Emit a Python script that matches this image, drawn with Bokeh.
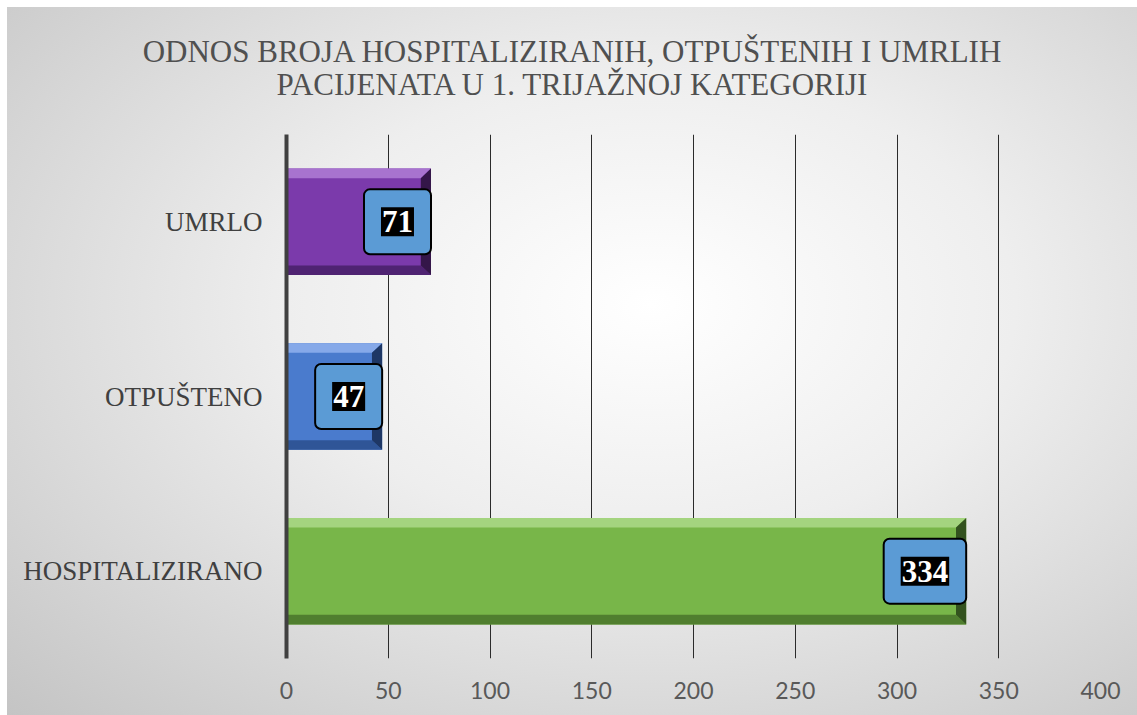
from bokeh.plotting import figure
from bokeh.layouts import column
from bokeh.models import ColumnDataSource, FactorRange, Range1d, FixedTicker, Div
from bokeh.embed import file_html
from bokeh.resources import INLINE
from bokeh.core.properties import value

# ---- data ----
categories = ["HOSPITALIZIRANO", "OTPUŠTENO", "UMRLO"]
counts = [334, 47, 71]
face_colors = ["#78b649", "#4a7bcd", "#7b3aab"]
top_colors = ["#a4d47f", "#86a9e9", "#a873cf"]
bottom_colors = ["#507e2f", "#2f5597", "#4f2372"]
side_colors = ["#33521e", "#1e3765", "#341649"]
x_ticks = [0, 50, 100, 150, 200, 250, 300, 350, 400]
title_lines = ["ODNOS BROJA HOSPITALIZIRANIH, OTPUŠTENIH I UMRLIH",
               "PACIJENATA U 1. TRIJAŽNOJ KATEGORIJI"]

BAR_H = 0.61
BEV_X = 5.0     # bevel width in x units
BEV_Y = 0.055   # bevel width in category units

W, H = 1137, 715
TH = 134                               # title strip height
FL, FR, FB = 286, 1100, 658            # frame edges (page px)

# ---- title strip ----
title_html = ("<div style=\"box-sizing:border-box;width:%dpx;margin:0;padding:35px 0 0 7px;"
              "text-align:center;font-family:'Liberation Serif',serif;font-size:31px;"
              "line-height:33px;color:#505050;white-space:nowrap;\">" % W
              + "<br>".join(title_lines) + "</div>")
t = Div(text=title_html, width=W, height=TH, margin=0)

# ---- chart ----
p = figure(width=W, height=H - TH, title=None,
           y_range=FactorRange(*categories), x_range=Range1d(0, 400),
           output_backend="svg", toolbar_location=None,
           min_border_left=FL, min_border_right=W - FR,
           min_border_top=0, min_border_bottom=H - FB, margin=0)
p.background_fill_alpha = 0
p.border_fill_alpha = 0
p.outline_line_color = None

# grid
p.xgrid.ticker = FixedTicker(ticks=x_ticks)
p.xgrid.grid_line_color = "#2b2b2b"
p.xgrid.grid_line_width = 1
p.ygrid.grid_line_color = None

# axes
p.xaxis.ticker = FixedTicker(ticks=x_ticks)
p.xaxis.axis_line_color = None
p.xaxis.major_tick_line_color = None
p.xaxis.minor_tick_line_color = None
p.xaxis.major_label_text_font = "Lato"
p.xaxis.major_label_text_font_size = "23px"
p.xaxis.major_label_text_color = "#595959"
p.xaxis.major_label_standoff = 17

p.yaxis.axis_line_color = "#404040"
p.yaxis.axis_line_width = 4
p.yaxis.major_tick_line_color = None
p.yaxis.minor_tick_line_color = None
p.yaxis.major_label_text_font = "Liberation Serif"
p.yaxis.major_label_text_font_size = "27px"
p.yaxis.major_label_text_color = "#404040"
p.yaxis.major_label_standoff = 18

# bars
src = ColumnDataSource(dict(cat=categories, v=counts, face=face_colors,
                            lbl=[str(c) for c in counts]))
p.hbar(y="cat", left=0, right="v", height=BAR_H, fill_color="face",
       line_color=None, source=src)

# bevel strips built from the same values
top_xs, top_ys, bot_xs, bot_ys, side_xs, side_ys = [], [], [], [], [], []
for c, v in zip(categories, counts):
    hi, lo = BAR_H / 2, -BAR_H / 2
    top_xs.append([0, v, v - BEV_X, 0])
    top_ys.append([(c, hi), (c, hi), (c, hi - BEV_Y), (c, hi - BEV_Y)])
    bot_xs.append([0, v, v - BEV_X, 0])
    bot_ys.append([(c, lo), (c, lo), (c, lo + BEV_Y), (c, lo + BEV_Y)])
    side_xs.append([v, v, v - BEV_X, v - BEV_X])
    side_ys.append([(c, hi), (c, lo), (c, lo + BEV_Y), (c, hi - BEV_Y)])

p.patches(xs=top_xs, ys=top_ys, fill_color=top_colors, line_color=None)
p.patches(xs=bot_xs, ys=bot_ys, fill_color=bottom_colors, line_color=None)
p.patches(xs=side_xs, ys=side_ys, fill_color=side_colors, line_color=None)

# data labels: outer blue box, inner black box
p.text(x="v", y="cat", text="lbl", source=src, text_align="right",
       text_baseline="middle", x_offset=0,
       text_font=value("Liberation Serif"), text_font_style="bold",
       text_font_size="31px", text_color="white",
       background_fill_color="#5b9bd5", border_line_color="black",
       border_line_width=2, padding=(18, 22), border_radius=6)
p.text(x="v", y="cat", text="lbl", source=src, text_align="right",
       text_baseline="middle", x_offset=-17,
       text_font=value("Liberation Serif"), text_font_style="bold",
       text_font_size="31px", text_color="white",
       background_fill_color="black", padding=(1, 4))

layout = column(t, p, spacing=0)
layout.styles = {"background": "radial-gradient(ellipse farthest-corner at 57% 42%, #ffffff 0%, #eeeeee 40%, #c4c4c4 100%) no-repeat 7px 7px / calc(100% - 7px) calc(100% - 7px), #ffffff"}

open("out.html", "w").write(file_html(layout, INLINE))
